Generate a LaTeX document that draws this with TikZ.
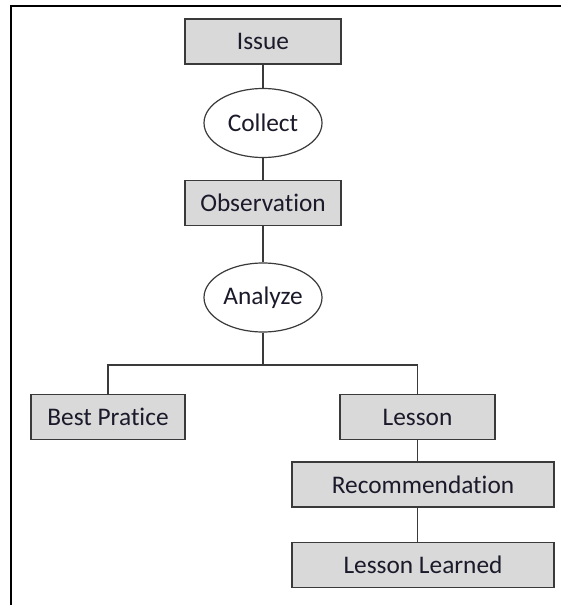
\documentclass[tikz,border=0pt]{standalone}
\usepackage{fontspec}
\setmainfont{Carlito}[Ligatures={NoCommon}]
\usetikzlibrary{shapes.geometric}
\definecolor{boxfill}{HTML}{D9D9D9}
\definecolor{edge}{HTML}{3A3A3A}
\definecolor{ink}{HTML}{1A1A2A}
\tikzset{
  stepbox/.style={draw=edge, line width=1.1pt, fill=boxfill, rectangle,
    minimum height=34pt, inner sep=0pt, text=ink,
    font=\fontsize{19}{21}\selectfont},
  actoval/.style={draw=edge, line width=0.9pt, fill=white, ellipse,
    minimum width=88.5pt, minimum height=51.75pt, inner sep=0pt, text=ink,
    font=\fontsize{19}{21}\selectfont},
  link/.style={draw=edge, line width=1.1pt},
  frameline/.style={draw=black, line width=1.5pt}
}
\begin{document}
\begin{tikzpicture}[x=0.75pt, y=-0.75pt]
  \useasboundingbox (0,0) rectangle (561,605);
  % outer frame (top and left edges)
  \draw[frameline] (11,605) -- (11,6) -- (561,6);

  % main chain
  \node[stepbox, minimum width=117pt] (issue) at (263,41.5) {Issue};
  \node[actoval] (collect) at (263,123) {Collect};
  \node[stepbox, minimum width=117pt] (obs) at (263,203) {Observation};
  \node[actoval] (analyze) at (263,297.5) {Analyze};
  \coordinate (split) at (263,365);

  % outcomes
  \node[stepbox, minimum width=115.5pt] (best) at (108,417) {Best Pratice};
  \node[stepbox, minimum width=116pt] (lesson) at (417.5,417) {Lesson};
  \node[stepbox, minimum width=196.5pt] (rec) at (423,484.5) {Recommendation};
  \node[stepbox, minimum width=196.5pt] (learned) at (423,565) {Lesson Learned};

  % connectors
  \draw[link] (issue.south) -- (collect.north);
  \draw[link] (collect.south) -- (obs.north);
  \draw[link] (obs.south) -- (analyze.north);
  \draw[link] (analyze.south) -- (split);
  \draw[link] (best.north) |- (split) -| (lesson.north);
  \draw[link] (lesson.south) -- (lesson.south |- rec.north);
  \draw[link] (rec.south -| lesson.south) -- (learned.north -| lesson.south);
\end{tikzpicture}
\end{document}
